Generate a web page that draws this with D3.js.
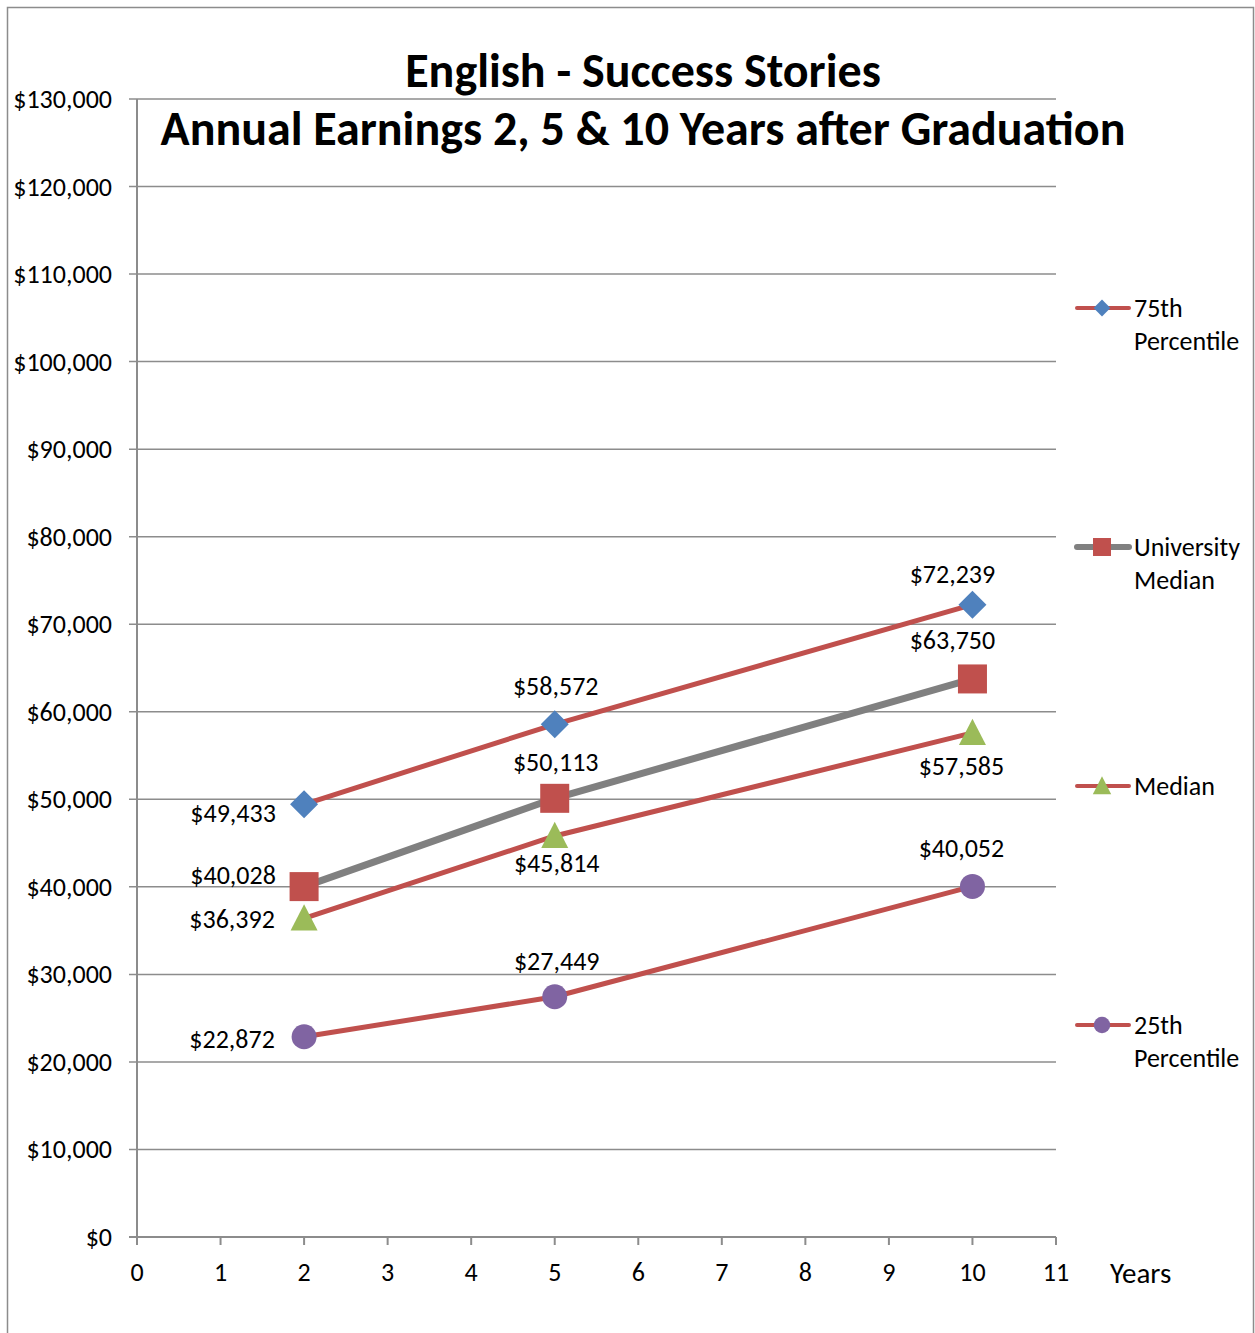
<!DOCTYPE html>
<html>
<head>
<meta charset="utf-8">
<script src="https://cdn.jsdelivr.net/npm/d3@7"></script>
<style>
  body { margin: 0; background: #fff; }
  text { font-family: Carlito, Calibri, Lato, "Open Sans", sans-serif; }
</style>
</head>
<body>
<div id="caja"></div>
<script>
// datos del grafico
var years = [2, 5, 10];
var p75 = [49433, 58572, 72239];
var uniMedian = [40028, 50113, 63750];
var median = [36392, 45814, 57585];
var p25 = [22872, 27449, 40052];
var xTicks = [0, 1, 2, 3, 4, 5, 6, 7, 8, 9, 10, 11];
var yTicks = [0, 10000, 20000, 30000, 40000, 50000, 60000, 70000, 80000, 90000, 100000, 110000, 120000, 130000];

var w = 1255, h = 1333;
var pLeft = 137, pRight = 1056, pTop = 99, pBottom = 1237;

var svg = d3.select('#caja')
  .append('svg')
  .attr('width', w)
  .attr('height', h);

// marco
svg.append("rect")
  .attr("x", 7.5).attr("y", 7.5)
  .attr("width", 1246).attr("height", 1340)
  .style("fill", "none").style("stroke", "#8c8c8c").style("stroke-width", 1.5);

var x = d3.scaleLinear().domain([0, 11]).range([pLeft, pRight]);
var y = d3.scaleLinear().domain([0, 130000]).range([pBottom, pTop]);
var money = d3.format("$,.0f");

// lineas de cuadricula
svg.append("g").selectAll("line")
  .data(yTicks.slice(1))
  .enter().append("line")
  .attr("x1", pLeft - 8).attr("x2", pRight)
  .attr("y1", function(d) { return y(d); }).attr("y2", function(d) { return y(d); })
  .style("stroke", "#8c8c8c").style("stroke-width", 1.5);

// eje y
svg.append("line")
  .attr("x1", pLeft).attr("x2", pLeft).attr("y1", pTop).attr("y2", pBottom)
  .style("stroke", "#8c8c8c").style("stroke-width", 2);
svg.append("g").selectAll("text")
  .data(yTicks)
  .enter().append("text")
  .attr("x", 112)
  .attr("y", function(d) { return y(d) + 9; })
  .attr("text-anchor", "end")
  .style("font-size", "26px")
  .text(function(d) { return money(d); });

// eje x
svg.append("line")
  .attr("x1", pLeft - 8).attr("x2", pRight).attr("y1", pBottom).attr("y2", pBottom)
  .style("stroke", "#8c8c8c").style("stroke-width", 2);
svg.append("g").selectAll("line")
  .data(xTicks)
  .enter().append("line")
  .attr("x1", function(d) { return x(d); }).attr("x2", function(d) { return x(d); })
  .attr("y1", pBottom).attr("y2", pBottom + 8)
  .style("stroke", "#8c8c8c").style("stroke-width", 2);
svg.append("g").selectAll("text")
  .data(xTicks)
  .enter().append("text")
  .attr("x", function(d) { return x(d); })
  .attr("y", 1281)
  .attr("text-anchor", "middle")
  .style("font-size", "26px")
  .text(function(d) { return d; });
svg.append("text")
  .attr("x", 1110).attr("y", 1283)
  .style("font-size", "29px")
  .text("Years");

// titulo
svg.append("text")
  .attr("x", 643).attr("y", 87)
  .attr("text-anchor", "middle")
  .style("font-size", "48px").style("font-weight", "bold")
  .text("English - Success Stories");
svg.append("text")
  .attr("x", 643).attr("y", 145)
  .attr("text-anchor", "middle")
  .style("font-size", "48px").style("font-weight", "bold")
  .text("Annual Earnings 2, 5 & 10 Years after Graduation");

// series con estilos y posicion de etiquetas (dx, dy por punto)
var series = [
  { name: ["University", "Median"], values: uniMedian, line: "#808080", lw: 7, marker: "square", fill: "#C0504D", size: 29, leg: 0.62,
    lab: [[-71, -12], [1, -36], [-20, -39]], legY: 547 },
  { name: ["75th", "Percentile"], values: p75, line: "#C0504D", lw: 5, marker: "diamond", fill: "#4F81BD", size: 28, leg: 0.6,
    lab: [[-71, 9], [1, -38], [-20, -31]], legY: 308 },
  { name: ["Median"], values: median, line: "#C0504D", lw: 5, marker: "triangle", fill: "#9BBB59", size: 27, leg: 0.68,
    lab: [[-72, 1], [2, 27], [-11, 33]], legY: 786 },
  { name: ["25th", "Percentile"], values: p25, line: "#C0504D", lw: 5, marker: "circle", fill: "#8064A2", size: 25, leg: 0.66,
    lab: [[-72, 2], [2, -36], [-11, -38]], legY: 1025 }
];

function drawMarker(g, s, cx, cy, scale) {
  var k = scale || 1;
  var r = s.size / 2 * k;
  if (s.marker === "square") {
    g.append("rect").attr("x", cx - r).attr("y", cy - r).attr("width", 2 * r).attr("height", 2 * r)
      .style("fill", s.fill);
  } else if (s.marker === "diamond") {
    g.append("path").attr("d", "M" + cx + "," + (cy - r) + "L" + (cx + r) + "," + cy + "L" + cx + "," + (cy + r) + "L" + (cx - r) + "," + cy + "Z")
      .style("fill", s.fill);
  } else if (s.marker === "triangle") {
    g.append("path").attr("d", "M" + cx + "," + (cy - r * 1.05) + "L" + (cx + r) + "," + (cy + r * 0.9) + "L" + (cx - r) + "," + (cy + r * 0.9) + "Z")
      .style("fill", s.fill);
  } else {
    g.append("circle").attr("cx", cx).attr("cy", cy).attr("r", r).style("fill", s.fill);
  }
}

var lineGen = d3.line()
  .x(function(d, i) { return x(years[i]); })
  .y(function(d) { return y(d); });

// lineas
series.forEach(function(s) {
  svg.append("path")
    .datum(s.values)
    .attr("d", lineGen)
    .style("fill", "none")
    .style("stroke", s.line)
    .style("stroke-width", s.lw)
    .style("stroke-linecap", "round");
});

// marcadores y etiquetas
series.forEach(function(s) {
  var g = svg.append("g");
  s.values.forEach(function(v, i) {
    drawMarker(g, s, x(years[i]), y(v));
    g.append("text")
      .attr("x", x(years[i]) + s.lab[i][0])
      .attr("y", y(v) + s.lab[i][1] + 9)
      .attr("text-anchor", "middle")
      .style("font-size", "26px")
      .text(money(v));
  });
});

// leyenda
series.forEach(function(s) {
  var g = svg.append("g");
  g.append("line")
    .attr("x1", 1077).attr("x2", 1129).attr("y1", s.legY).attr("y2", s.legY)
    .style("stroke", s.line).style("stroke-width", s.lw - 1).style("stroke-linecap", "round");
  drawMarker(g, s, 1102, s.legY, s.leg);
  s.name.forEach(function(t, j) {
    g.append("text")
      .attr("x", 1134)
      .attr("y", s.legY + 9 + j * 33)
      .style("font-size", "26px")
      .text(t);
  });
});
</script>
</body>
</html>
